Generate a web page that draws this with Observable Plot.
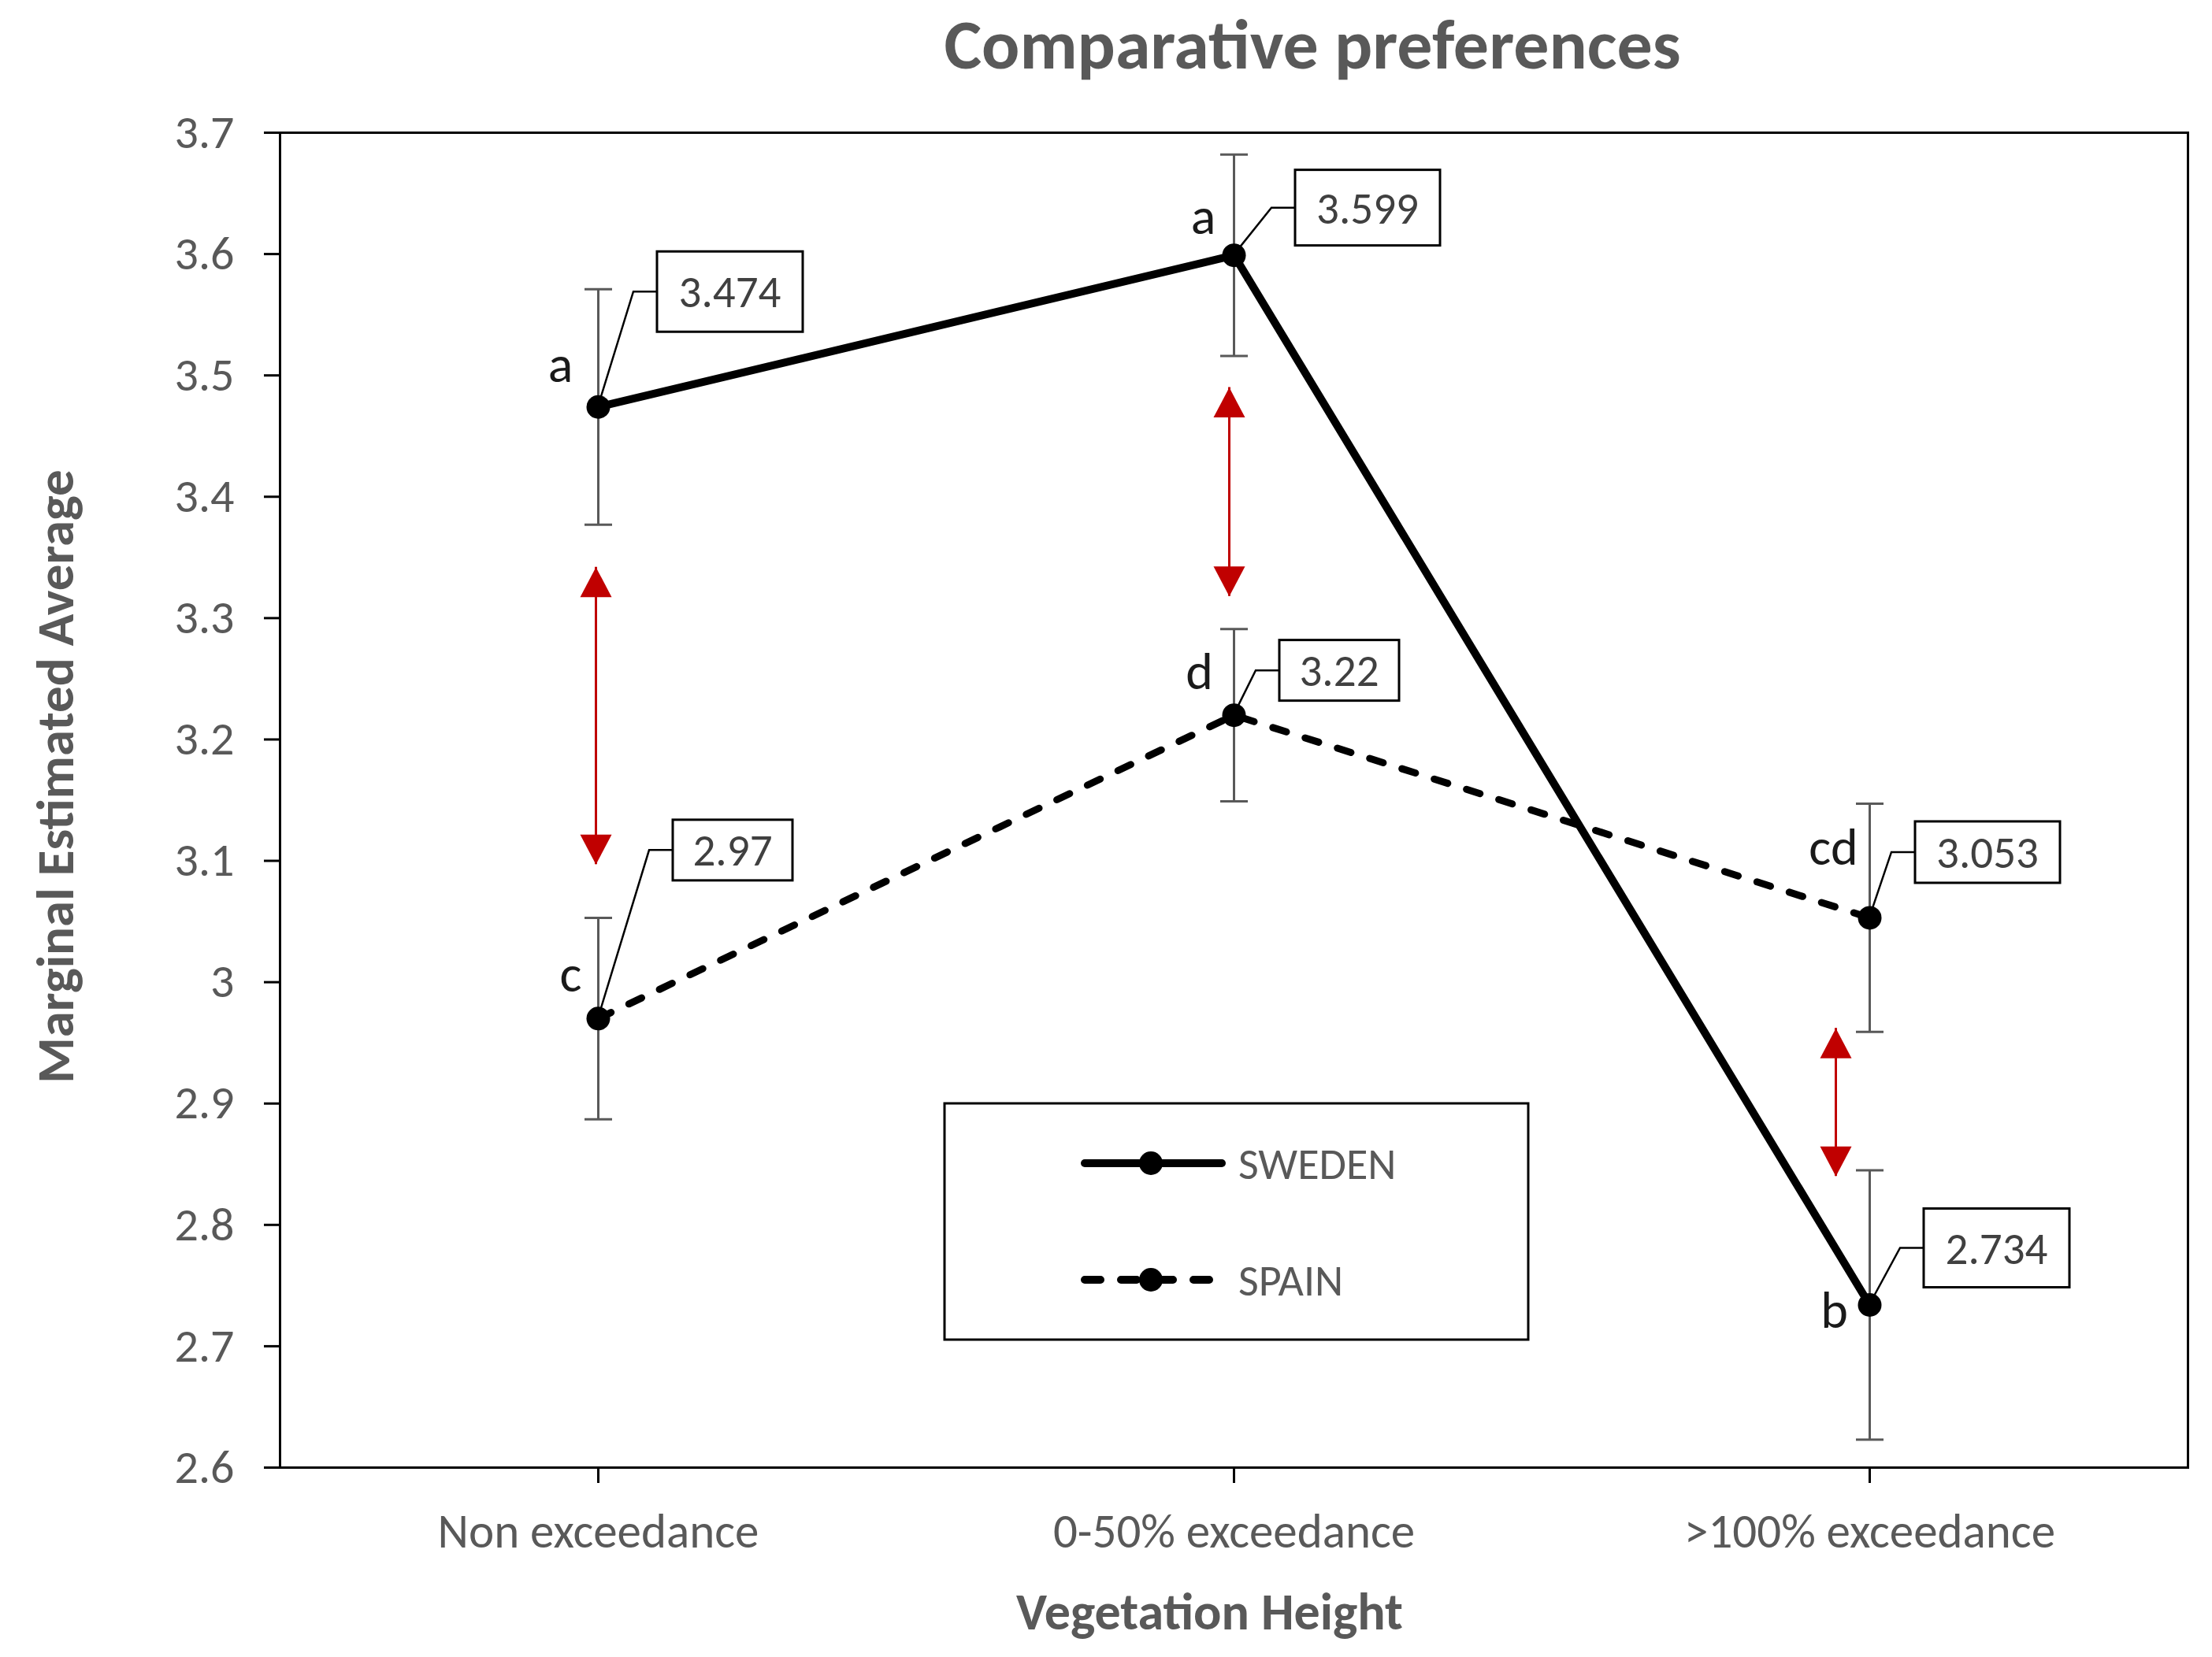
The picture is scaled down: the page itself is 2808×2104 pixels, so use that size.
<!DOCTYPE html>
<html>
<head>
<meta charset="utf-8">
<script src="https://cdn.jsdelivr.net/npm/d3@7"></script>
<script src="https://cdn.jsdelivr.net/npm/@observablehq/plot@0.6"></script>
<style>
  html, body { margin: 0; padding: 0; background: #fff; }
  #wrap { position: relative; width: 2808px; height: 2104px; overflow: hidden; }
  #title { position: absolute; top: 0; left: 0; width: 2808px; height: 140px; }
  #title span { position: absolute; left: 1666px; top: 2px; transform: translateX(-50%);
    font-family: Carlito, Lato, sans-serif; font-weight: bold; font-size: 90px; line-height: 108px;
    color: #595959; white-space: nowrap; }
  #chart { position: absolute; top: 140px; left: 0; }
</style>
</head>
<body>
<div id="wrap">
  <div id="title"><span>Comparative preferences</span></div>
  <div id="chart"></div>
</div>
<script>
// ---------- data ----------
const categories = ["Non exceedance", "0-50% exceedance", ">100% exceedance"];
const seriesNames = ["SWEDEN", "SPAIN"];
const swedenMean = [3.474, 3.599, 2.734];
const swedenErr = [0.097, 0.083, 0.111];
const swedenLetters = ["a", "a", "b"];
const spainMean = [2.970, 3.220, 3.053];
const spainErr = [0.083, 0.071, 0.094];
const spainLetters = ["c", "d", "cd"];
const arrowTop = [3.342, 3.490, 2.962];
const arrowBottom = [3.097, 3.318, 2.840];
const yTicks = [2.6, 2.7, 2.8, 2.9, 3.0, 3.1, 3.2, 3.3, 3.4, 3.5, 3.6, 3.7];
const yTickLabels = ["2.6", "2.7", "2.8", "2.9", "3", "3.1", "3.2", "3.3", "3.4", "3.5", "3.6", "3.7"];
const xTitle = "Vegetation Height";
const yTitle = "Marginal Estimated Average";

// ---------- layout (pixel offsets, styles) ----------
const FONT = "Carlito, Lato, sans-serif";
const GRAY = "#595959";
const RED = "#C00000";
// letter label offsets from the point: dx to letter centre, dy to baseline
const letterLayout = [
  {dx: -48, dy: -32}, {dx: -39, dy: -27}, {dx: -45, dy: 29},
  {dx: -35, dy: -34}, {dx: -44, dy: -33}, {dx: -46, dy: -67}
];
// value box offsets from the point: left edge, top edge, width, height
const calloutLayout = [
  {left: 75, top: -197, w: 185, h: 102},
  {left: 78, top: -108, w: 184, h: 96},
  {left: 69, top: -122, w: 185, h: 100},
  {left: 95, top: -252, w: 152, h: 77},
  {left: 58, top: -95, w: 152, h: 77},
  {left: 58, top: -122, w: 184, h: 78}
];
const arrowDx = [-3, -6, -43];

// ---------- table ----------
const rows = [];
categories.forEach((c, i) => rows.push({series: seriesNames[0], cat: c, mean: swedenMean[i], err: swedenErr[i], letter: swedenLetters[i]}));
categories.forEach((c, i) => rows.push({series: seriesNames[1], cat: c, mean: spainMean[i], err: spainErr[i], letter: spainLetters[i]}));
const sweden = rows.filter(d => d.series === seriesNames[0]);
const spain = rows.filter(d => d.series === seriesNames[1]);
const arrows = categories.map((c, i) => ({cat: c, top: arrowTop[i], bottom: arrowBottom[i], i}));

// ---------- custom symbols ----------
const capSymbol = {draw(ctx, size) { const w = Math.sqrt(size); ctx.moveTo(-w / 2, 0); ctx.lineTo(w / 2, 0); }};
const triUp = {draw(ctx, size) { const s = Math.sqrt(size); ctx.moveTo(0, 0); ctx.lineTo(s / 2, 0.95 * s); ctx.lineTo(-s / 2, 0.95 * s); ctx.closePath(); }};
const triDown = {draw(ctx, size) { const s = Math.sqrt(size); ctx.moveTo(0, 0); ctx.lineTo(s / 2, -0.95 * s); ctx.lineTo(-s / 2, -0.95 * s); ctx.closePath(); }};
const capR = 35 / Math.sqrt(Math.PI);
const triR = 40 / Math.sqrt(Math.PI);

// ---------- callout boxes (drawn through the plot's scales) ----------
function callouts(index, scales) {
  const g = d3.create("svg:g");
  rows.forEach((d, k) => {
    const L = calloutLayout[k];
    const px = scales.x(d.cat), py = scales.y(d.mean);
    const bx = px + L.left, by = py + L.top, my = by + L.h / 2;
    g.append("path")
      .attr("d", `M${px},${py}L${bx - 30},${my}H${bx}`)
      .attr("fill", "none").attr("stroke", "black").attr("stroke-width", 2.5);
    g.append("rect")
      .attr("x", bx).attr("y", by).attr("width", L.w).attr("height", L.h)
      .attr("fill", "white").attr("stroke", "black").attr("stroke-width", 3);
    g.append("text")
      .attr("x", bx + L.w / 2).attr("y", my + 20)
      .attr("text-anchor", "middle")
      .attr("font-family", FONT).attr("font-size", 57).attr("fill", "#404040")
      .text(String(d.mean));
  });
  return g.node();
}

// ---------- legend ----------
function legend(index, scales, values, dims) {
  const x0 = dims.marginLeft + 844, y0 = dims.marginTop + 1233;
  const g = d3.create("svg:g");
  g.append("rect").attr("x", x0).attr("y", y0).attr("width", 741).attr("height", 300)
    .attr("fill", "white").attr("stroke", "black").attr("stroke-width", 3);
  const items = [
    {name: seriesNames[0], dy: 76, dash: null, w: 10},
    {name: seriesNames[1], dy: 224, dash: "20,26", w: 10}
  ];
  items.forEach(it => {
    const y = y0 + it.dy;
    const ln = g.append("line").attr("x1", x0 + 178).attr("x2", x0 + 352).attr("y1", y).attr("y2", y)
      .attr("stroke", "black").attr("stroke-width", it.w).attr("stroke-linecap", "round");
    if (it.dash) ln.attr("stroke-dasharray", it.dash);
    g.append("circle").attr("cx", x0 + 262).attr("cy", y).attr("r", 15).attr("fill", "black");
    g.append("text").attr("x", x0 + 373).attr("y", y + 20)
      .attr("text-anchor", "start")
      .attr("font-family", FONT).attr("font-size", 56).attr("fill", GRAY).text(it.name);
  });
  return g.node();
}

const chart = Plot.plot({
  width: 2808,
  height: 1964,
  marginTop: 28,
  marginBottom: 241,
  marginLeft: 355,
  marginRight: 31,
  style: {fontFamily: FONT, background: "white", overflow: "visible", color: "black"},
  x: {type: "point", domain: categories, padding: 0.5, label: null},
  y: {domain: [2.6, 3.7], label: null},
  marks: [
    Plot.axisY({ticks: yTicks, tickFormat: d => yTickLabels[yTicks.indexOf(d)], tickSize: 20, tickPadding: 38,
      fontSize: 60, stroke: "black", strokeWidth: 3, fill: GRAY, label: null}),
    Plot.axisX({tickSize: 20, tickPadding: 38, fontSize: 61, stroke: "black", strokeWidth: 3, fill: GRAY, label: null}),
    Plot.text([yTitle], {frameAnchor: "left", text: d => d, rotate: -90, textAnchor: "middle", dx: -284, dy: -30,
      fontSize: 67, fontWeight: "bold", fill: GRAY}),
    Plot.text([xTitle], {frameAnchor: "bottom", text: d => d, textAnchor: "middle", dx: -31, dy: 205, lineAnchor: "bottom",
      fontSize: 66, fontWeight: "bold", fill: GRAY}),
    Plot.frame({stroke: "black", strokeWidth: 3}),
    // error bars
    Plot.ruleX(rows, {x: "cat", y1: d => d.mean - d.err, y2: d => d.mean + d.err, stroke: GRAY, strokeWidth: 3}),
    Plot.dot(rows, {x: "cat", y: d => d.mean + d.err, symbol: capSymbol, r: capR, stroke: GRAY, strokeWidth: 3}),
    Plot.dot(rows, {x: "cat", y: d => d.mean - d.err, symbol: capSymbol, r: capR, stroke: GRAY, strokeWidth: 3}),
    // red difference arrows
    ...arrows.map(a => [
      Plot.ruleX([a], {x: "cat", y1: "bottom", y2: "top", dx: arrowDx[a.i], stroke: RED, strokeWidth: 3}),
      Plot.dot([a], {x: "cat", y: "top", dx: arrowDx[a.i], symbol: triUp, r: triR, fill: RED}),
      Plot.dot([a], {x: "cat", y: "bottom", dx: arrowDx[a.i], symbol: triDown, r: triR, fill: RED})
    ]),
    // series lines
    Plot.line(sweden, {x: "cat", y: "mean", stroke: "black", strokeWidth: 10}),
    Plot.line(spain, {x: "cat", y: "mean", stroke: "black", strokeWidth: 9, strokeDasharray: "18,25", strokeLinecap: "round"}),
    Plot.dot(rows, {x: "cat", y: "mean", r: 15, fill: "black"}),
    // significance letters
    ...rows.map((d, k) => Plot.text([d], {x: "cat", y: "mean", text: "letter", dx: letterLayout[k].dx, dy: letterLayout[k].dy,
      lineAnchor: "bottom", fontSize: 66, fill: "#1a1a1a"})),
    callouts,
    legend
  ]
});
document.getElementById("chart").appendChild(chart);
</script>
</body>
</html>
